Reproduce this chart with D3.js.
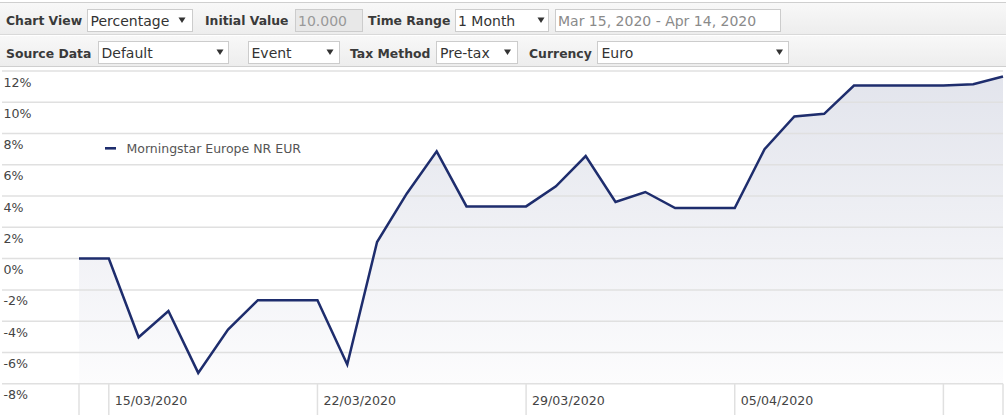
<!DOCTYPE html>
<html>
<head>
<meta charset="utf-8">
<script src="https://cdn.jsdelivr.net/npm/d3@7"></script>
<style>
  html, body { margin: 0; padding: 0; background: #fff; }
  svg { display: block; font-family: "DejaVu Sans", Verdana, sans-serif; }
</style>
</head>
<body>
<svg id="chart" width="1006" height="415"></svg>
<script>
// ---- data ----
const seriesName = "Morningstar Europe NR EUR";
const dates = [
  "2020-03-14","2020-03-15","2020-03-16","2020-03-17","2020-03-18","2020-03-19",
  "2020-03-20","2020-03-21","2020-03-22","2020-03-23","2020-03-24","2020-03-25",
  "2020-03-26","2020-03-27","2020-03-28","2020-03-29","2020-03-30","2020-03-31",
  "2020-04-01","2020-04-02","2020-04-03","2020-04-04","2020-04-05","2020-04-06",
  "2020-04-07","2020-04-08","2020-04-09","2020-04-10","2020-04-11","2020-04-12",
  "2020-04-13","2020-04-14"
];
const values = [
  0.00, 0.00, -5.03, -3.35, -7.31, -4.54,
  -2.66, -2.66, -2.66, -6.77, 1.06, 4.17,
  6.86, 3.34, 3.34, 3.34, 4.62, 6.56,
  3.62, 4.26, 3.23, 3.23, 3.23, 7.00,
  9.09, 9.26, 11.07, 11.07, 11.07, 11.07,
  11.15, 11.65
];
const yTicks = [-8, -6, -4, -2, 0, 2, 4, 6, 8, 10, 12];
const xTickDates = ["2020-03-15","2020-03-22","2020-03-29","2020-04-05","2020-04-12"];
const xTickLabels = ["15/03/2020","22/03/2020","29/03/2020","05/04/2020",""];
const domainStart = "2020-03-14", domainEnd = "2020-04-14";

// toolbar texts
const row1Labels = ["Chart View", "Initial Value", "Time Range"];
const row1Fields = ["Percentage", "10.000", "1 Month", "Mar 15, 2020 - Apr 14, 2020"];
const row2Labels = ["Source Data", "Tax Method", "Currency"];
const row2Fields = ["Default", "Event", "Pre-tax", "Euro"];

// ---- drawing ----
const parse = d3.timeParse("%Y-%m-%d");
const svg = d3.select("#chart");
const W = 1006;

// toolbar
const defs = svg.append("defs");
const tg = defs.append("linearGradient").attr("id","tb").attr("x1",0).attr("x2",0).attr("y1",0).attr("y2",1);
tg.append("stop").attr("offset","0%").attr("stop-color","#f8f8f8");
tg.append("stop").attr("offset","100%").attr("stop-color","#ededed");

svg.append("rect").attr("x",0).attr("y",0).attr("width",W).attr("height",67).attr("fill","#fff");
svg.append("line").attr("x1",0).attr("x2",W).attr("y1",2.5).attr("y2",2.5).attr("stroke","#cfcfcf");
svg.append("rect").attr("x",0).attr("y",3).attr("width",W).attr("height",31).attr("fill","url(#tb)");
svg.append("line").attr("x1",0).attr("x2",W).attr("y1",34.5).attr("y2",34.5).attr("stroke","#d9d9d9");
svg.append("rect").attr("x",0).attr("y",36).attr("width",W).attr("height",30).attr("fill","url(#tb)");
svg.append("line").attr("x1",0).attr("x2",W).attr("y1",66.5).attr("y2",66.5).attr("stroke","#cfcfcf");

function label(txt, x, y) {
  svg.append("text").attr("x",x).attr("y",y).attr("font-size",12.4).attr("font-weight","bold")
    .attr("fill","#3a3a3a").text(txt);
}
function field(txt, x0, x1, y0, y1, opts) {
  opts = opts || {};
  svg.append("rect").attr("x",x0+0.5).attr("y",y0+0.5).attr("width",x1-x0).attr("height",y1-y0)
    .attr("fill", opts.bg || "#fff").attr("stroke","#cccccc");
  svg.append("text").attr("x",opts.tx).attr("y",y1-5).attr("font-size",14)
    .attr("fill", opts.color || "#333").text(txt);
  if (opts.arrow) {
    const ax = opts.arrow, ay = (y0+y1)/2;
    svg.append("path").attr("d",`M${ax-3.5},${ay-2.5}L${ax+3.5},${ay-2.5}L${ax},${ay+3}Z`).attr("fill","#333");
  }
}
// row 1
label(row1Labels[0], 6, 25);
field(row1Fields[0], 87, 192, 9, 31, {tx: 90.5, arrow: 182});
label(row1Labels[1], 205, 25);
field(row1Fields[1], 295, 362, 9, 31, {tx: 298, bg: "#e8e8e8", color: "#999"});
label(row1Labels[2], 368, 25);
field(row1Fields[2], 455, 548, 9, 31, {tx: 458, arrow: 541});
field(row1Fields[3], 555, 780, 9, 31, {tx: 558, color: "#8a8a8a"});
// row 2
label(row2Labels[0], 6, 58);
field(row2Fields[0], 98, 228, 41, 63, {tx: 101.5, arrow: 220});
field(row2Fields[1], 248, 339, 41, 63, {tx: 251.5, arrow: 330});
label(row2Labels[1], 350, 58);
field(row2Fields[2], 436, 517, 41, 63, {tx: 440, arrow: 507.5});
label(row2Labels[2], 529, 58);
field(row2Fields[3], 597, 788, 41, 63, {tx: 601.5, arrow: 779.5});

// chart
const x = d3.scaleTime().domain([parse(domainStart), parse(domainEnd)]).range([79, 1003]);
const y = d3.scaleLinear().domain([-8, 12]).range([383.7, 71]);
const data = dates.map((d, i) => ({date: parse(d), value: values[i]}));

const ag = defs.append("linearGradient").attr("id","area").attr("gradientUnits","userSpaceOnUse")
  .attr("x1",0).attr("x2",0).attr("y1",y(12)).attr("y2",y(-8));
ag.append("stop").attr("offset","0%").attr("stop-color","#e2e4ec");
ag.append("stop").attr("offset","100%").attr("stop-color","#fcfcfd");

// area
svg.append("path").datum(data)
  .attr("d", d3.area().x(d => x(d.date)).y0(y(-8)).y1(d => y(d.value)))
  .attr("fill","url(#area)");

// gridlines
svg.append("g").selectAll("line").data(yTicks).join("line")
  .attr("x1",2).attr("x2",1003)
  .attr("y1",d => y(d)).attr("y2",d => y(d))
  .attr("stroke","#e0e0e0").attr("stroke-width",1.5);

// y labels (below their gridline)
svg.append("g").selectAll("text").data(yTicks).join("text")
  .attr("x",3.5).attr("y",d => y(d) + 15.5)
  .attr("font-size",12.6).attr("fill","#444")
  .text(d => d + "%");

// x axis area: vertical separators
const sepDates = [domainStart, ...xTickDates, domainEnd];
svg.append("g").selectAll("line").data(sepDates).join("line")
  .attr("x1",d => x(parse(d))).attr("x2",d => x(parse(d)))
  .attr("y1",y(-8)).attr("y2",415)
  .attr("stroke","#e0e0e0").attr("stroke-width",1.5);
svg.append("g").selectAll("text").data(xTickDates).join("text")
  .attr("x",d => x(parse(d)) + 6).attr("y",404.5)
  .attr("font-size",12.6).attr("fill","#444")
  .text((d,i) => xTickLabels[i]);

// line
svg.append("path").datum(data)
  .attr("d", d3.line().x(d => x(d.date)).y(d => y(d.value)))
  .attr("fill","none").attr("stroke","#1e2d6d").attr("stroke-width",2.5)
  .attr("stroke-linejoin","miter");

// legend
svg.append("rect").attr("x",105).attr("y",147).attr("width",11).attr("height",2.6).attr("fill","#1e2d6d");
svg.append("text").attr("x",126.5).attr("y",152.5).attr("font-size",12.5).attr("fill","#555").text(seriesName);
</script>
</body>
</html>
